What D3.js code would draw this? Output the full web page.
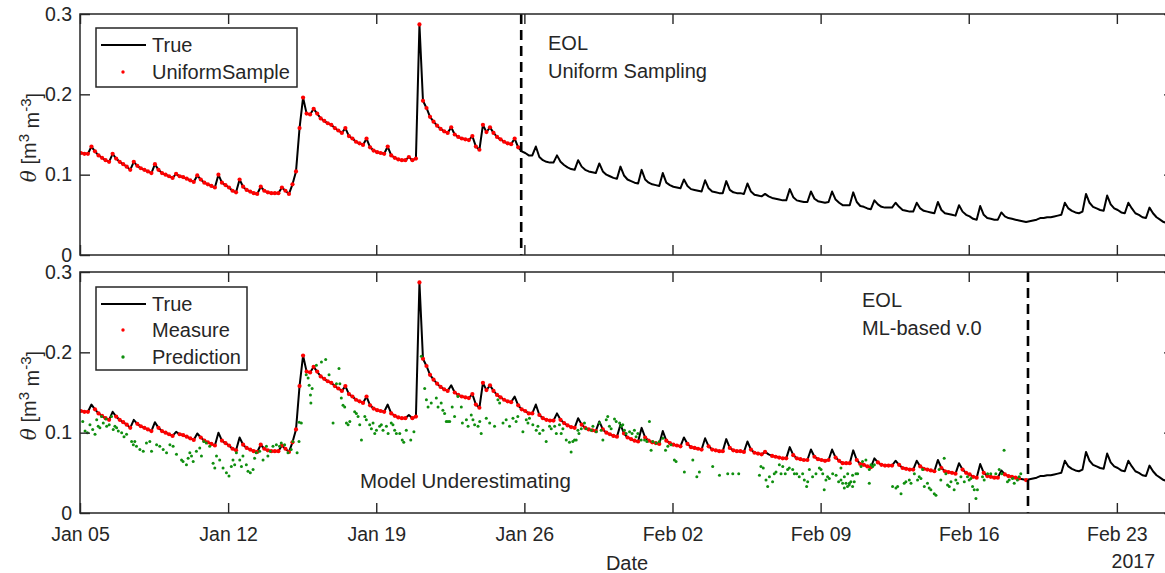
<!DOCTYPE html>
<html lang="en">
<head>
<meta charset="utf-8">
<title>Soil moisture: uniform sampling vs ML-based sampling</title>
<script src="https://d3js.org/d3.v7.min.js"></script>
<style>
  body { margin: 0; background: #fff; }
  text { font-family: "Liberation Sans", Arial, sans-serif; fill: #262626; }
</style>
</head>
<body>
<script>
// ---- data ----
var startDate = new Date(2017, 0, 5);
var endDate = new Date(2017, 1, 25, 16, 48);
var sampleHours = 4, firstHour = 1;   // true series sampled every 4 h, from 01:00

// true soil moisture, one row per day (01h 05h 09h 13h 17h 21h)
var trueVals = [
  0.127,0.126,0.126,0.135,0.129,0.124,
  0.121,0.118,0.116,0.126,0.120,0.116,
  0.113,0.110,0.106,0.116,0.111,0.108,
  0.106,0.104,0.102,0.113,0.106,0.102,
  0.100,0.098,0.096,0.101,0.098,0.097,
  0.095,0.093,0.091,0.099,0.094,0.090,
  0.088,0.086,0.084,0.100,0.090,0.087,
  0.084,0.080,0.078,0.094,0.085,0.081,
  0.079,0.077,0.076,0.085,0.080,0.078,
  0.077,0.077,0.077,0.084,0.080,0.076,
  0.088,0.104,0.158,0.196,0.176,0.175,
  0.182,0.176,0.170,0.167,0.164,0.162,
  0.158,0.155,0.152,0.158,0.148,0.145,
  0.141,0.139,0.137,0.145,0.134,0.130,
  0.128,0.127,0.126,0.135,0.124,0.121,
  0.119,0.118,0.118,0.122,0.118,0.120,
  0.287,0.192,0.183,0.172,0.166,0.161,
  0.157,0.154,0.152,0.159,0.150,0.147,
  0.145,0.144,0.143,0.148,0.135,0.131,
  0.162,0.153,0.159,0.152,0.147,0.144,
  0.141,0.139,0.138,0.145,0.134,0.129,
  0.127,0.124,0.124,0.135,0.122,0.118,
  0.116,0.115,0.115,0.124,0.116,0.112,
  0.109,0.107,0.106,0.118,0.110,0.106,
  0.104,0.103,0.102,0.114,0.104,0.100,
  0.098,0.096,0.095,0.110,0.099,0.094,
  0.092,0.090,0.089,0.106,0.094,0.090,
  0.088,0.087,0.086,0.102,0.090,0.087,
  0.085,0.084,0.083,0.094,0.086,0.082,
  0.081,0.080,0.079,0.093,0.083,0.079,
  0.078,0.077,0.077,0.092,0.081,0.078,
  0.077,0.077,0.076,0.089,0.079,0.075,
  0.074,0.073,0.076,0.073,0.071,0.070,
  0.069,0.068,0.068,0.082,0.072,0.068,
  0.067,0.066,0.066,0.079,0.070,0.067,
  0.066,0.065,0.066,0.079,0.069,0.065,
  0.062,0.062,0.062,0.078,0.066,0.061,
  0.060,0.058,0.057,0.068,0.063,0.060,
  0.059,0.059,0.059,0.065,0.060,0.056,
  0.055,0.054,0.054,0.065,0.058,0.055,
  0.054,0.053,0.052,0.066,0.056,0.052,
  0.051,0.050,0.049,0.062,0.054,0.050,
  0.048,0.045,0.044,0.061,0.050,0.046,
  0.045,0.044,0.044,0.053,0.048,0.046,
  0.045,0.044,0.043,0.042,0.041,0.042,
  0.043,0.044,0.046,0.046,0.047,0.047,
  0.048,0.049,0.050,0.065,0.058,0.055,
  0.053,0.052,0.054,0.076,0.065,0.060,
  0.058,0.056,0.055,0.074,0.063,0.058,
  0.056,0.053,0.052,0.065,0.058,0.052,
  0.050,0.047,0.046,0.059,0.052,0.047,
  0.044,0.041,0.040
];

var uniformEOLDay = 20.85;   // days after Jan 05
var mlEOLDay = 44.8;
// days on which the ML scheme also measured the afternoon peak
var measuredPeakDays = [8, 9, 10, 11, 12, 13, 16, 18, 19];

// model prediction points [day, theta]
var prediction = [
  [0.13,0.114],[0.24,0.102],[0.35,0.100],[0.47,0.110],[0.60,0.104],[0.71,0.098],[0.79,0.116],[0.86,0.108],
  [0.94,0.106],[1.02,0.120],[1.10,0.112],[1.23,0.117],[1.26,0.108],[1.38,0.110],[1.49,0.120],[1.57,0.104],
  [1.65,0.108],[1.73,0.106],[1.81,0.102],[1.97,0.100],[2.08,0.095],[2.20,0.098],[2.44,0.089],[2.52,0.085],
  [2.59,0.089],[2.67,0.083],[2.83,0.079],[2.99,0.077],[3.14,0.087],[3.30,0.089],[3.38,0.077],[3.62,0.085],
  [3.77,0.083],[3.93,0.079],[4.09,0.075],[4.25,0.085],[4.40,0.083],[4.56,0.073],[4.80,0.066],[4.87,0.064],
  [5.03,0.060],[5.11,0.068],[5.19,0.075],[5.27,0.071],[5.35,0.064],[5.50,0.077],[5.66,0.081],[5.74,0.071],
  [5.85,0.089],[5.97,0.087],[6.13,0.083],[6.29,0.062],[6.37,0.056],[6.45,0.071],[6.60,0.066],[6.76,0.056],
  [6.92,0.050],[7.04,0.046],[7.15,0.058],[7.23,0.066],[7.31,0.060],[7.39,0.075],[7.55,0.066],[7.63,0.058],
  [7.70,0.071],[7.86,0.060],[7.94,0.052],[8.05,0.050],[8.18,0.054],[8.25,0.068],[8.33,0.075],[8.49,0.077],
  [8.65,0.066],[8.81,0.083],[8.88,0.071],[8.99,0.077],[9.12,0.083],[9.28,0.085],[9.43,0.083],[9.51,0.087],
  [9.67,0.085],[9.83,0.075],[9.98,0.079],[10.06,0.089],[10.26,0.075],[10.35,0.089],[10.36,0.113],[10.46,0.112],
  [10.69,0.172],[10.78,0.168],[10.83,0.159],[10.89,0.147],[10.91,0.137],[10.97,0.155],[11.17,0.184],[11.41,0.188],
  [11.61,0.191],[11.77,0.172],[11.96,0.112],[12.12,0.161],[12.24,0.180],[12.28,0.161],[12.35,0.143],[12.43,0.134],
  [12.51,0.132],[12.59,0.112],[12.67,0.110],[12.75,0.114],[12.98,0.126],[13.06,0.124],[13.14,0.120],[13.22,0.110],
  [13.30,0.091],[13.46,0.120],[13.53,0.116],[13.69,0.110],[13.77,0.105],[13.85,0.112],[13.93,0.099],[14.01,0.103],
  [14.16,0.108],[14.24,0.110],[14.32,0.103],[14.48,0.108],[14.56,0.099],[14.71,0.112],[14.79,0.110],[14.87,0.103],
  [14.95,0.099],[15.11,0.099],[15.23,0.091],[15.30,0.088],[15.42,0.103],[15.63,0.091],[15.78,0.101],[16.13,0.195],
  [16.29,0.155],[16.37,0.141],[16.45,0.132],[16.60,0.137],[16.84,0.143],[16.92,0.132],[17.07,0.137],[17.15,0.128],
  [17.23,0.124],[17.31,0.114],[17.39,0.114],[17.47,0.114],[17.59,0.132],[17.70,0.120],[17.86,0.145],[18.02,0.132],
  [18.07,0.112],[18.26,0.116],[18.34,0.108],[18.49,0.122],[18.57,0.116],[18.65,0.110],[18.81,0.108],[18.89,0.114],
  [18.96,0.099],[19.20,0.118],[19.36,0.112],[19.59,0.108],[19.75,0.141],[19.83,0.137],[19.99,0.112],[20.14,0.116],
  [20.30,0.108],[20.46,0.118],[20.61,0.114],[20.69,0.120],[20.93,0.101],[21.09,0.116],[21.17,0.112],[21.24,0.118],
  [21.40,0.110],[21.56,0.103],[21.64,0.108],[21.72,0.099],[21.88,0.103],[22.03,0.089],[22.19,0.108],[22.27,0.105],
  [22.43,0.108],[22.51,0.099],[22.66,0.110],[22.74,0.099],[22.82,0.105],[22.98,0.091],[23.13,0.088],[23.21,0.076],
  [23.29,0.089],[23.37,0.091],[23.45,0.091],[23.53,0.103],[23.58,0.099],[23.69,0.105],[23.84,0.112],[23.92,0.105],
  [24.16,0.103],[24.24,0.108],[24.40,0.101],[24.55,0.112],[24.63,0.103],[24.71,0.091],[24.87,0.116],[24.94,0.120],
  [25.02,0.108],[25.10,0.105],[25.26,0.117],[25.34,0.114],[25.50,0.112],[25.57,0.108],[25.65,0.110],[25.73,0.103],
  [25.81,0.099],[25.97,0.101],[26.09,0.099],[26.20,0.103],[26.28,0.095],[26.36,0.099],[26.52,0.091],[26.68,0.091],
  [26.79,0.089],[26.91,0.114],[26.99,0.078],[27.07,0.089],[27.23,0.087],[27.38,0.089],[27.54,0.093],[27.67,0.078],
  [27.78,0.083],[27.93,0.085],[28.09,0.066],[28.17,0.064],[28.56,0.051],[28.96,0.066],[29.15,0.045],[29.27,0.051],
  [29.90,0.058],[30.22,0.047],[30.61,0.049],[30.85,0.049],[31.13,0.049],[32.11,0.047],[32.18,0.058],[32.29,0.056],
  [32.42,0.041],[32.50,0.033],[32.58,0.045],[32.73,0.039],[32.81,0.049],[32.89,0.051],[33.05,0.060],[33.13,0.049],
  [33.21,0.058],[33.33,0.049],[33.44,0.054],[33.52,0.056],[33.68,0.054],[33.76,0.049],[33.87,0.049],[33.99,0.045],
  [34.15,0.049],[34.23,0.041],[34.34,0.033],[34.39,0.039],[34.47,0.054],[34.62,0.045],[34.78,0.049],[34.94,0.056],
  [35.02,0.054],[35.10,0.049],[35.17,0.029],[35.25,0.041],[35.33,0.045],[35.41,0.043],[35.57,0.049],[35.73,0.047],
  [35.85,0.039],[35.96,0.041],[35.96,0.056],[36.04,0.037],[36.12,0.031],[36.12,0.045],[36.20,0.037],[36.27,0.033],
  [36.28,0.049],[36.35,0.035],[36.36,0.037],[36.43,0.039],[36.51,0.033],[36.51,0.047],[36.59,0.039],[36.67,0.049],
  [36.75,0.049],[36.91,0.058],[36.98,0.064],[37.14,0.066],[37.30,0.054],[37.30,0.037],[37.38,0.060],[37.46,0.058],
  [37.54,0.060],[38.40,0.033],[38.56,0.031],[38.64,0.033],[38.80,0.024],[38.95,0.037],[39.03,0.039],[39.19,0.041],
  [39.27,0.037],[39.43,0.049],[39.58,0.041],[39.66,0.045],[39.74,0.043],[39.82,0.054],[39.90,0.033],[40.05,0.037],
  [40.13,0.031],[40.21,0.029],[40.37,0.024],[40.45,0.022],[40.60,0.054],[40.68,0.041],[40.84,0.068],[40.92,0.049],
  [41.00,0.035],[41.08,0.033],[41.16,0.039],[41.31,0.029],[41.39,0.041],[41.47,0.037],[41.63,0.045],[41.79,0.039],
  [41.94,0.045],[42.02,0.041],[42.10,0.043],[42.18,0.033],[42.26,0.029],[42.34,0.018],[42.41,0.029],[42.65,0.045],
  [42.73,0.041],[42.89,0.049],[43.04,0.049],[43.28,0.049],[43.44,0.054],[43.56,0.049],[43.67,0.078],[43.83,0.039],
  [43.91,0.041],[44.07,0.043],[44.15,0.037],[44.30,0.041],[44.38,0.045],[44.46,0.049]
];

var tickDays = [0, 7, 14, 21, 28, 35, 42, 49];
var tickLabels = ["Jan 05", "Jan 12", "Jan 19", "Jan 26", "Feb 02", "Feb 09", "Feb 16", "Feb 23"];
var yTicks = [0, 0.1, 0.2, 0.3];

// ---- layout ----
var w = 1165, h = 573;
var left = 80, right = 1174;
var panels = [
  { top: 14, bottom: 255 },
  { top: 272, bottom: 513 }
];
var axisColor = "#262626";
var red = "#ff0000", green = "#0f8f0f";

var dayToDate = function(d) { return new Date(+startDate + d * 864e5); };

var samples = trueVals.map(function(v, i) {
  return { day: (firstHour + i * sampleHours) / 24, v: v, slot: i % 6 };
});

var x = d3.scaleTime().domain([startDate, endDate]).range([left, right]);

var svg = d3.select("body").append("svg")
  .attr("width", w)
  .attr("height", h);

function drawPanel(p, idx) {
  var y = d3.scaleLinear().domain([0, 0.3]).range([p.bottom, p.top]);
  var g = svg.append("g");

  g.append("clipPath").attr("id", "clip" + idx)
    .append("rect")
    .attr("x", left).attr("y", p.top - 2)
    .attr("width", right - left).attr("height", p.bottom - p.top + 2);

  var plot = g.append("g").attr("clip-path", "url(#clip" + idx + ")");

  var line = d3.line()
    .x(function(d) { return x(dayToDate(d.day)); })
    .y(function(d) { return y(d.v); });

  plot.append("path")
    .datum(samples)
    .attr("d", line)
    .attr("fill", "none")
    .attr("stroke", "#000")
    .attr("stroke-width", 2)
    .attr("stroke-linejoin", "round");

  var measured;
  if (idx === 0) {
    measured = samples.filter(function(s) { return s.day <= uniformEOLDay; });
  } else {
    measured = samples.filter(function(s) {
      return s.day <= mlEOLDay && (s.slot !== 3 || measuredPeakDays.indexOf(Math.floor(s.day)) >= 0);
    });
  }

  plot.selectAll(".meas")
    .data(measured)
    .enter().append("circle")
    .attr("class", "meas")
    .attr("cx", function(d) { return x(dayToDate(d.day)); })
    .attr("cy", function(d) { return y(d.v); })
    .attr("r", 2.1)
    .attr("fill", red);

  if (idx === 1) {
    plot.selectAll(".pred")
      .data(prediction)
      .enter().append("circle")
      .attr("class", "pred")
      .attr("cx", function(d) { return x(dayToDate(d[0])); })
      .attr("cy", function(d) { return y(d[1]); })
      .attr("r", 1.5)
      .attr("fill", green);
  }

  // EOL dashed line
  var eol = idx === 0 ? uniformEOLDay : mlEOLDay;
  plot.append("line")
    .attr("x1", x(dayToDate(eol))).attr("x2", x(dayToDate(eol)))
    .attr("y1", p.top).attr("y2", p.bottom)
    .attr("stroke", "#000")
    .attr("stroke-width", 2.6)
    .attr("stroke-dasharray", "10,6");

  // box
  g.append("rect")
    .attr("x", left).attr("y", p.top)
    .attr("width", right - left).attr("height", p.bottom - p.top)
    .attr("fill", "none")
    .attr("stroke", axisColor)
    .attr("stroke-width", 1.5);

  var tickVals = tickDays.map(dayToDate);

  // bottom x axis
  var xb = d3.axisBottom(x).tickValues(tickVals).tickSize(-10).tickPadding(14)
    .tickFormat(function(d, i) { return idx === 1 ? tickLabels[i] : ""; });
  var gxb = g.append("g").attr("transform", "translate(0," + p.bottom + ")").call(xb);

  // top x axis (ticks only)
  var xt = d3.axisTop(x).tickValues(tickVals).tickSize(-10).tickFormat("");
  var gxt = g.append("g").attr("transform", "translate(0," + p.top + ")").call(xt);

  var yl = d3.axisLeft(y).tickValues(yTicks).tickSize(-10).tickPadding(8)
    .tickFormat(function(d) { return d === 0 ? "0" : d.toFixed(1); });
  var gyl = g.append("g").attr("transform", "translate(" + left + ",0)").call(yl);

  var yr = d3.axisRight(y).tickValues(yTicks).tickSize(-10).tickFormat("");
  var gyr = g.append("g").attr("transform", "translate(" + right + ",0)").call(yr);

  [gxb, gxt, gyl, gyr].forEach(function(a) {
    a.select(".domain").remove();
    a.selectAll("line").attr("stroke", axisColor).attr("stroke-width", 1.4);
    a.selectAll("text")
      .style("font-family", '"Liberation Sans", Arial, sans-serif')
      .style("font-size", "19.5px")
      .attr("fill", axisColor);
  });

  // y label
  var cy = (p.top + p.bottom) / 2 + 3;
  var lab = g.append("text")
    .attr("transform", "translate(36," + cy + ") rotate(-90)")
    .attr("text-anchor", "middle")
    .style("font-size", "20px");
  lab.append("tspan").text("θ")
    .style("font-style", "italic")
    .style("font-family", '"DejaVu Serif", "Liberation Serif", serif');
  lab.append("tspan").text(" [m");
  lab.append("tspan").text("3").attr("dy", "-0.5em").style("font-size", "15px");
  lab.append("tspan").text(" m").attr("dy", "0.5em");
  lab.append("tspan").text("-3").attr("dy", "-0.5em").style("font-size", "15px");
  lab.append("tspan").text("]").attr("dy", "0.5em");

  return g;
}

var gTop = drawPanel(panels[0], 0);
var gBot = drawPanel(panels[1], 1);

// legends
function legend(g, box, rows) {
  g.append("rect")
    .attr("x", box.x).attr("y", box.y)
    .attr("width", box.w).attr("height", box.h)
    .attr("fill", "#fff")
    .attr("stroke", axisColor)
    .attr("stroke-width", 1.5);
  rows.forEach(function(r) {
    if (r.type === "line") {
      g.append("line")
        .attr("x1", box.x + 5).attr("x2", box.x + 50)
        .attr("y1", r.y).attr("y2", r.y)
        .attr("stroke", "#000").attr("stroke-width", 2);
    } else {
      g.append("circle")
        .attr("cx", box.x + 27).attr("cy", r.y)
        .attr("r", 1.7).attr("fill", r.color);
    }
    g.append("text")
      .attr("x", box.x + 56).attr("y", r.y + 7)
      .style("font-size", "20px")
      .attr("fill", "#000")
      .text(r.label);
  });
}

legend(gTop, { x: 96, y: 28, w: 201, h: 59 }, [
  { type: "line", y: 45, label: "True" },
  { type: "dot", y: 72, color: red, label: "UniformSample" }
]);

legend(gBot, { x: 96, y: 287, w: 151, h: 83 }, [
  { type: "line", y: 304, label: "True" },
  { type: "dot", y: 330, color: red, label: "Measure" },
  { type: "dot", y: 357, color: green, label: "Prediction" }
]);

// annotations
function note(txt, xx, yy, size) {
  svg.append("text")
    .attr("x", xx).attr("y", yy)
    .style("font-size", (size || 20) + "px")
    .attr("fill", "#000")
    .text(txt);
}
note("EOL", 548, 50);
note("Uniform Sampling", 548, 78);
note("EOL", 862, 307);
note("ML-based v.0", 862, 335);
note("Model Underestimating", 360, 488, 20.5);

svg.append("text")
  .attr("x", 627).attr("y", 570)
  .attr("text-anchor", "middle")
  .style("font-size", "20px")
  .text("Date");

svg.append("text")
  .attr("x", 1155).attr("y", 568)
  .attr("text-anchor", "end")
  .style("font-size", "19.5px")
  .text("2017");
</script>
</body>
</html>
